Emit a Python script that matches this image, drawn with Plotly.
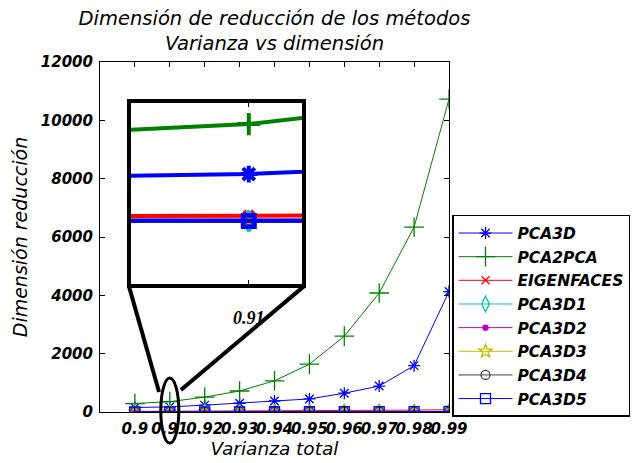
import plotly.graph_objects as go

# Total variance levels (x axis)
varianza = [0.90, 0.91, 0.92, 0.93, 0.94, 0.95, 0.96, 0.97, 0.98, 0.99]
x_tick_text = ["0.9", "0.91", "0.92", "0.93", "0.94", "0.95", "0.96", "0.97", "0.98", "0.99"]
y_ticks = [0, 2000, 4000, 6000, 8000, 10000, 12000]

# Reduced dimension per method
pca3d = [155, 175, 235, 300, 378, 448, 645, 890, 1590, 4130]
pca2pca = [290, 355, 510, 720, 1070, 1640, 2600, 4080, 6340, 10730]
eigenfaces = [22, 24, 27, 31, 35, 40, 46, 54, 64, 80]
pca3d1 = [6, 6, 7, 7, 8, 9, 10, 11, 13, 16]
pca3d2 = [6, 6, 7, 7, 8, 9, 10, 11, 13, 16]
pca3d3 = [6, 6, 7, 7, 8, 9, 10, 11, 13, 16]
pca3d4 = [6, 6, 7, 7, 8, 9, 10, 11, 13, 16]
pca3d5 = [6, 6, 7, 7, 8, 9, 10, 11, 13, 16]

series = [
    ("PCA3D", pca3d, "#0000FF", "asterisk-open", 10, 14),
    ("PCA2PCA", pca2pca, "#008000", "cross-thin-open", 14, 16),
    ("EIGENFACES", eigenfaces, "#FF0000", "x-thin-open", 8, 10),
    ("PCA3D1", pca3d1, "#00BFBF", "diamond-tall-open", 11, 14),
    ("PCA3D2", pca3d2, "#BF00BF", "circle", 5, 6),
    ("PCA3D3", pca3d3, "#BFBF00", "star-open", 10, 10),
    ("PCA3D4", pca3d4, "#404040", "circle-open", 9, 10),
    ("PCA3D5", pca3d5, "#0000FF", "square-open", 10, 12),
]

X_RANGE = [0.89, 0.99]
Y_RANGE = [0, 12000]
INSET_X_RANGE = [0.9069, 0.9114]
INSET_Y_RANGE = [-221, 431]
INSET_DOM_X = [0.0888, 0.5788]
INSET_DOM_Y = [0.3657, 0.8829]

SANS = "DejaVu Sans"


def to_paper_x(v):
    return (v - X_RANGE[0]) / (X_RANGE[1] - X_RANGE[0])


def to_paper_y(v):
    return (v - Y_RANGE[0]) / (Y_RANGE[1] - Y_RANGE[0])


fig = go.Figure()

# Main curves
for name, vals, color, sym, size, _ in series:
    fig.add_trace(go.Scatter(
        x=varianza, y=vals, name=name, mode="lines+markers",
        line=dict(color=color, width=1),
        marker=dict(symbol=sym, size=size, color=color,
                    line=dict(color=color, width=1.3)),
        legendgroup=name,
    ))

# Magnified view around 0.91
for name, vals, color, sym, size, isize in series:
    fig.add_trace(go.Scatter(
        x=varianza, y=vals, mode="lines+markers", showlegend=False,
        xaxis="x2", yaxis="y2",
        line=dict(color=color, width=4),
        marker=dict(symbol=sym, size=isize, color=color,
                    line=dict(color=color, width=4)),
        hoverinfo="skip",
    ))

# Ellipse marking the magnified region
ell_cx, ell_cy = 0.91, 50
ell_hw, ell_hh = 0.00258, 1115
ex0, ex1 = to_paper_x(ell_cx - ell_hw), to_paper_x(ell_cx + ell_hw)
ey0, ey1 = to_paper_y(ell_cy - ell_hh), to_paper_y(ell_cy + ell_hh)

shapes = [
    dict(type="rect", xref="paper", yref="paper", layer="below",
         x0=INSET_DOM_X[0], x1=INSET_DOM_X[1], y0=INSET_DOM_Y[0], y1=INSET_DOM_Y[1],
         fillcolor="white", line=dict(width=0)),
    dict(type="circle", xref="paper", yref="paper",
         x0=ex0, x1=ex1, y0=ey0, y1=ey1,
         line=dict(color="black", width=3)),
    dict(type="line", xref="paper", yref="paper",
         x0=INSET_DOM_X[0] - 0.006, y0=INSET_DOM_Y[0] - 0.006,
         x1=ex0 - 0.005, y1=ey1 - 0.04,
         line=dict(color="black", width=4)),
    dict(type="line", xref="paper", yref="paper",
         x0=INSET_DOM_X[1] + 0.006, y0=INSET_DOM_Y[0] - 0.006,
         x1=ex1 + 0.006, y1=ey1 - 0.034,
         line=dict(color="black", width=4)),
]

fig.update_layout(
    width=635, height=463,
    margin=dict(l=100, r=186, t=62, b=51, autoexpand=False),
    paper_bgcolor="white", plot_bgcolor="white",
    font=dict(family=SANS, color="black"),
    title=dict(
        text="Dimensión de reducción de los métodos<br>Varianza vs dimensión",
        x=0.5, xref="paper", xanchor="center",
        y=0.946, yref="container", yanchor="top",
        font=dict(family=SANS, size=19.5, style="italic", color="black"),
    ),
    xaxis=dict(
        range=X_RANGE, tickvals=varianza, ticktext=x_tick_text, tickangle=0,
        ticks="inside", ticklen=5, tickcolor="black", mirror="ticks",
        showline=True, linecolor="black", linewidth=1,
        showgrid=False, zeroline=False, ticklabelstandoff=3,
        tickfont=dict(family=SANS, size=15, weight="bold", style="italic"),
        title=dict(text="Varianza total", standoff=5,
                   font=dict(family=SANS, size=18.5, style="italic")),
    ),
    yaxis=dict(
        range=Y_RANGE, tickvals=y_ticks, tickformat="d",
        ticks="inside", ticklen=5, tickcolor="black", mirror="ticks",
        showline=True, linecolor="black", linewidth=1,
        showgrid=False, zeroline=False, ticklabelstandoff=3,
        tickfont=dict(family=SANS, size=15, weight="bold", style="italic"),
        title=dict(text="Dimensión reducción", standoff=8,
                   font=dict(family=SANS, size=19, style="italic")),
    ),
    xaxis2=dict(
        domain=INSET_DOM_X, anchor="y2", range=INSET_X_RANGE,
        tickvals=[0.91], ticktext=["0.91"],
        ticks="inside", ticklen=4, tickcolor="black", mirror="ticks",
        showline=True, linecolor="black", linewidth=4,
        showgrid=False, zeroline=False, ticklabelstandoff=14,
        tickfont=dict(family="Liberation Serif", size=18, weight="bold", style="italic"),
    ),
    yaxis2=dict(
        domain=INSET_DOM_Y, anchor="x2", range=INSET_Y_RANGE,
        showticklabels=False, ticks="", mirror=True,
        showline=True, linecolor="black", linewidth=4,
        showgrid=False, zeroline=False,
    ),
    legend=dict(
        x=1.0086, y=0.563, xanchor="left", yanchor="top",
        xref="paper", yref="paper",
        bgcolor="white", bordercolor="black", borderwidth=1.5,
        font=dict(family=SANS, size=15.5, weight="bold", style="italic"),
        traceorder="grouped", tracegroupgap=0.5, itemwidth=54,
    ),
    shapes=shapes,
    showlegend=True,
)

fig.write_html("out.html")
